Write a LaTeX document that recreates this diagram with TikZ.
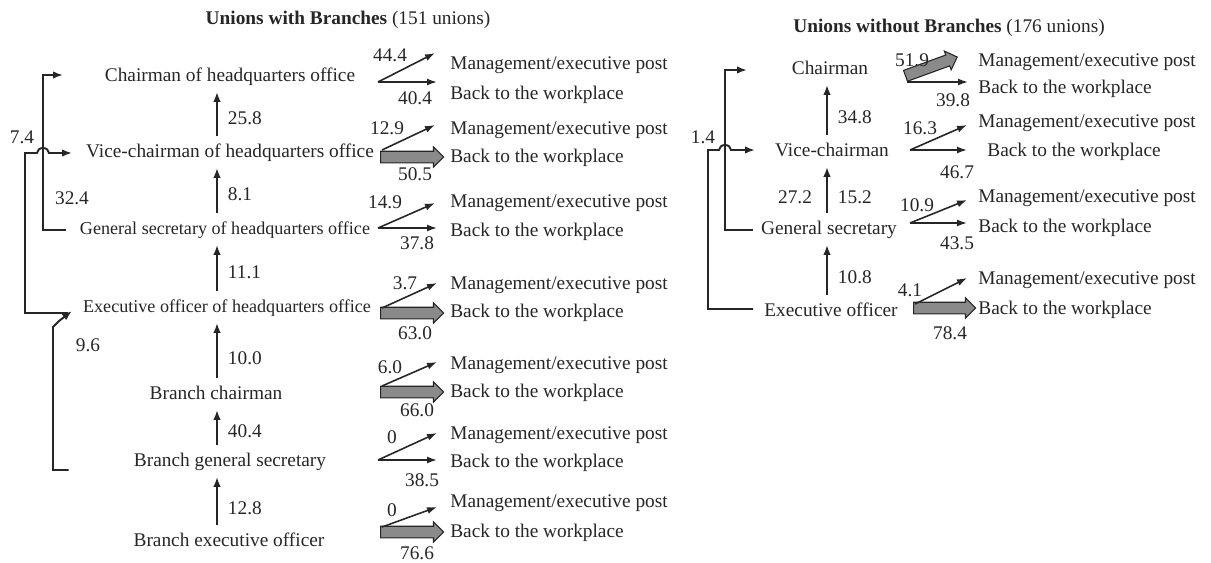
\documentclass[tikz,border=0pt]{standalone}
\usepackage{fontspec}
\setmainfont{Liberation Serif}
\usepackage{tikz}
\usetikzlibrary{arrows.meta, shapes.arrows}
\definecolor{cInk}{HTML}{262626}
\definecolor{cFat}{HTML}{8A8A8A}

\begin{document}
\begin{tikzpicture}[
  x=0.02cm, y=-0.02cm,
  font=\fontsize{11}{13}\selectfont, color=cInk,
  post/.style={inner sep=0pt, text height=8pt, text depth=2.5pt},
  hqpost/.style={post, font=\fontsize{10.3}{12}\selectfont},
  dest/.style={anchor=west, inner sep=0pt},
  num/.style={inner sep=0pt},
  up/.style={line width=1.1pt, -{Latex[length=2mm, width=1.5mm]}, shorten <=4pt, shorten >=3pt},
  fork/.style={line width=0.9pt, -{Latex[length=2mm, width=1.4mm]}},
  brk/.style={line width=1.1pt, -{Latex[length=2mm, width=1.5mm]}},
  fatarr/.style={single arrow, draw=cInk, fill=cFat, line width=0.6pt, inner xsep=0pt,
    inner ysep=1.05mm, single arrow head extend=0.85mm, minimum height=12.6mm, anchor=tail},
]
\useasboundingbox (0,0) rectangle (1211,562);

% titles
\node (ttlL) at (348,20) {\textbf{Unions with Branches} (151 unions)};
\node (ttlR) at (949,28) {\textbf{Unions without Branches} (176 unions)};

% unions with branches: posts
\node[post] (hq1) at (230,77) {Chairman of headquarters office};
\node[post] (hq2) at (230,153) {Vice-chairman of headquarters office};
\node[hqpost] (hq3) at (225,230) {General secretary of headquarters office};
\node[hqpost] (hq4) at (227,308) {Executive officer of headquarters office};
\node[post] (br1) at (216,395) {Branch chairman};
\node[post] (br2) at (230,462) {Branch general secretary};
\node[post] (br3) at (229,542) {Branch executive officer};

\coordinate (axL) at (217,0);
\draw[up] (hq2.north -| axL) -- (hq1.south -| axL) node[num, pos=0.45, right=2mm] (v1) {25.8};
\draw[up] (hq3.north -| axL) -- (hq2.south -| axL) node[num, pos=0.45, right=2mm] (v2) {8.1};
\draw[up] (hq4.north -| axL) -- (hq3.south -| axL) node[num, pos=0.45, right=2mm] (v3) {11.1};
\draw[up] (br1.north -| axL) -- (hq4.south -| axL) node[num, pos=0.4, right=2mm] (v4) {10.0};
\draw[up] (br2.north -| axL) -- (br1.south -| axL) node[num, pos=0.45, right=2mm] (v5) {40.4};
\draw[up] (br3.north -| axL) -- (br2.south -| axL) node[num, pos=0.4, right=2mm] (v6) {12.8};

% skips on the left
\coordinate (cA) at (43,75); \coordinate (tA) at (63,75);
\draw[brk] ([xshift=-2.8mm]hq3.west) -| (cA) -- (tA);
\coordinate (cB) at (25,153); \coordinate (tB) at (72,153);
\draw[brk] ([shift={(-3mm,-1mm)}]hq4.west) -| (cB) -- ++(12,0)
  arc[start angle=180, end angle=360, x radius=6, y radius=5] -- (tB);
\coordinate (cC) at (53,327); \coordinate (tC) at (72,311);
\draw[brk] ([shift={(-13mm,-1.6mm)}]br2.west) -| (cC) -- ++(6,-6) -- (tC);
\node[num] (lA) at (72,198) {32.4};
\node[num] (lB) at (22,137) {7.4};
\node[num] (lC) at (88,345) {9.6};

% where they go
\coordinate (o1) at (378,82); \coordinate (u1) at (435,53); \coordinate (h1) at (437,82);
\draw[fork] (o1) -- (u1); \draw[fork] (o1) -- (h1);
\node[num] (p1) at (390,55) {44.4}; \node[num] (q1) at (415,98) {40.4};
\node[dest] (m1) at (450,65) {Management/executive post};
\node[dest] (b1) at (450,95) {Back to the workplace};

\coordinate (o2) at (382,150); \coordinate (u2) at (435,125);
\node[fatarr] (f2) at (380,157) {};
\draw[fork] (o2) -- (u2);
\node[num] (p2) at (387,128) {12.9}; \node[num] (q2) at (415,174) {50.5};
\node[dest] (m2) at (450,130) {Management/executive post};
\node[dest] (b2) at (450,158) {Back to the workplace};

\coordinate (o3) at (378,228); \coordinate (u3) at (435,203); \coordinate (h3) at (437,228);
\draw[fork] (o3) -- (u3); \draw[fork] (o3) -- (h3);
\node[num] (p3) at (385,202) {14.9}; \node[num] (q3) at (417,243) {37.8};
\node[dest] (m3) at (450,203) {Management/executive post};
\node[dest] (b3) at (450,232) {Back to the workplace};

\coordinate (o4) at (382,308); \coordinate (u4) at (437,283);
\node[fatarr] (f4) at (380,313) {};
\draw[fork] (o4) -- (u4);
\node[num] (p4) at (405,283) {3.7}; \node[num] (q4) at (415,333) {63.0};
\node[dest] (m4) at (450,285) {Management/executive post};
\node[dest] (b4) at (450,313) {Back to the workplace};

\coordinate (o5) at (382,386); \coordinate (u5) at (437,362);
\node[fatarr] (f5) at (380,392) {};
\draw[fork] (o5) -- (u5);
\node[num] (p5) at (390,367) {6.0}; \node[num] (q5) at (417,410) {66.0};
\node[dest] (m5) at (450,365) {Management/executive post};
\node[dest] (b5) at (450,393) {Back to the workplace};

\coordinate (o6) at (378,460); \coordinate (u6) at (437,433); \coordinate (h6) at (437,460);
\draw[fork] (o6) -- (u6); \draw[fork] (o6) -- (h6);
\node[num] (p6) at (392,437) {0}; \node[num] (q6) at (422,480) {38.5};
\node[dest] (m6) at (450,435) {Management/executive post};
\node[dest] (b6) at (450,463) {Back to the workplace};

\coordinate (o7) at (382,527); \coordinate (u7) at (437,507);
\node[fatarr] (f7) at (380,532) {};
\draw[fork] (o7) -- (u7);
\node[num] (p7) at (392,510) {0}; \node[num] (q7) at (417,553) {76.6};
\node[dest] (m7) at (450,503) {Management/executive post};
\node[dest] (b7) at (450,533) {Back to the workplace};

% unions without branches: posts
\node[post] (ch) at (830,70) {Chairman};
\node[post] (vc) at (832,152) {Vice-chairman};
\node[post] (gs) at (829,230) {General secretary};
\node[post] (eo) at (831,312) {Executive officer};

\coordinate (axR) at (827,0);
\draw[up] (vc.north -| axR) -- (ch.south -| axR) node[num, pos=0.4, right=2mm] (w1) {34.8};
\draw[up] (gs.north -| axR) -- (vc.south -| axR) node[num, pos=0.4, right=2mm] (w2) {15.2};
\draw[up] (eo.north -| axR) -- (gs.south -| axR) node[num, pos=0.4, right=2mm] (w3) {10.8};

% skips on the right
\coordinate (cD) at (725,70); \coordinate (tD) at (747,70);
\draw[brk] ([xshift=-1.6mm]gs.west) -| (cD) -- (tD);
\coordinate (cE) at (708,150); \coordinate (tE) at (755,150);
\draw[brk] ([shift={(-2.2mm,0.6mm)}]eo.west) -| (cE) -- ++(11,0)
  arc[start angle=180, end angle=360, x radius=6, y radius=5] -- (tE);
\node[num] (lD) at (795,197) {27.2};
\node[num] (lE) at (703,137) {1.4};

% where they go
\coordinate (r1) at (907,82); \coordinate (s1) at (968,82);
\node[fatarr, rotate=20, minimum height=11mm] (g1) at (905,76) {};
\draw[fork] (r1) -- (s1);
\node[num] (x1) at (912,60) {51.9}; \node[num] (y1) at (953,100) {39.8};
\node[dest] (n1) at (978,62) {Management/executive post};
\node[dest] (k1) at (978,89) {Back to the workplace};

\coordinate (r2) at (910,150); \coordinate (t2) at (967,125); \coordinate (s2) at (967,150);
\draw[fork] (r2) -- (t2); \draw[fork] (r2) -- (s2);
\node[num] (x2) at (920,128) {16.3}; \node[num] (y2) at (957,172) {46.7};
\node[dest] (n2) at (978,123) {Management/executive post};
\node[dest] (k2) at (987,152) {Back to the workplace};

\coordinate (r3) at (910,223); \coordinate (t3) at (967,200); \coordinate (s3) at (967,223);
\draw[fork] (r3) -- (t3); \draw[fork] (r3) -- (s3);
\node[num] (x3) at (917,205) {10.9}; \node[num] (y3) at (957,243) {43.5};
\node[dest] (n3) at (978,198) {Management/executive post};
\node[dest] (k3) at (978,228) {Back to the workplace};

\coordinate (r4) at (915,304); \coordinate (t4) at (967,278);
\node[fatarr, minimum height=12.4mm] (g4) at (913,308) {};
\draw[fork] (r4) -- (t4);
\node[num] (x4) at (910,290) {4.1}; \node[num] (y4) at (950,333) {78.4};
\node[dest] (n4) at (978,280) {Management/executive post};
\node[dest] (k4) at (978,310) {Back to the workplace};
\end{tikzpicture}
\end{document}
